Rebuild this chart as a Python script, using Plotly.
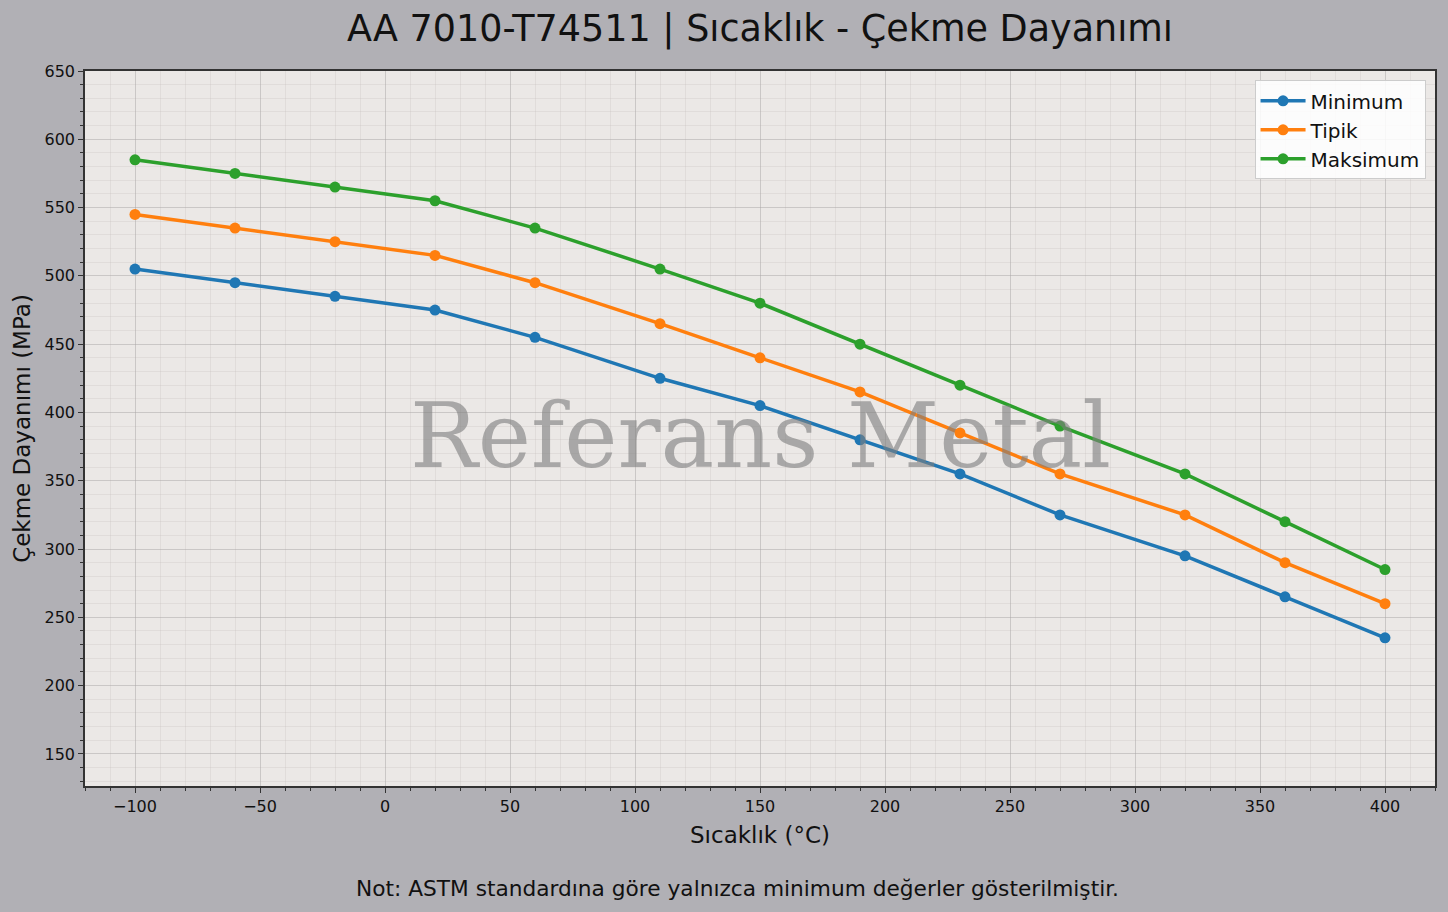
import plotly.graph_objects as go

# Temperature (°C) and tensile strength (MPa)
sicaklik = [-100, -60, -20, 20, 60, 110, 150, 190, 230, 270, 320, 360, 400]
minimum = [505, 495, 485, 475, 455, 425, 405, 380, 355, 325, 295, 265, 235]
tipik = [545, 535, 525, 515, 495, 465, 440, 415, 385, 355, 325, 290, 260]
maksimum = [585, 575, 565, 555, 535, 505, 480, 450, 420, 390, 355, 320, 285]

series = [
    ("Minimum", minimum, "#1f77b4"),
    ("Tipik", tipik, "#ff7f0e"),
    ("Maksimum", maksimum, "#2ca02c"),
]

FONT = "DejaVu Sans"
AXIS_COLOR = "#333333"
TEXT_COLOR = "#111111"

fig = go.Figure()
for name, values, color in series:
    fig.add_trace(
        go.Scatter(
            x=sicaklik,
            y=values,
            name=name,
            mode="lines+markers",
            line=dict(color=color, width=3.5),
            marker=dict(color=color, size=11),
        )
    )

axis_common = dict(
    showline=True,
    linecolor=AXIS_COLOR,
    linewidth=1.6,
    mirror=True,
    ticks="outside",
    ticklen=5,
    tickwidth=1.2,
    tickcolor=AXIS_COLOR,
    showgrid=True,
    gridcolor="rgba(170,165,165,0.5)",
    gridwidth=1,
    zeroline=False,
    tickfont=dict(family=FONT, size=16, color=TEXT_COLOR),
)
minor_common = dict(
    dtick=10, tick0=0, ticks="outside", ticklen=3, tickcolor=AXIS_COLOR,
    showgrid=True, gridcolor="rgba(190,185,185,0.25)", gridwidth=0.6,
)

fig.update_xaxes(
    **axis_common,
    range=[-120, 420],
    dtick=50,
    tick0=0,
    title=dict(text="Sıcaklık (°C)", font=dict(family=FONT, size=23, color=TEXT_COLOR), standoff=12),
    minor=minor_common,
)
fig.update_yaxes(
    **axis_common,
    range=[126.5, 650],
    dtick=50,
    tick0=0,
    title=dict(text="Çekme Dayanımı (MPa)", font=dict(family=FONT, size=23, color=TEXT_COLOR), standoff=7),
    minor=minor_common,
)

fig.update_layout(
    width=1448,
    height=912,
    paper_bgcolor="#b1b0b5",
    plot_bgcolor="#ebe8e6",
    margin=dict(l=85, r=11, t=71, b=126),
    title=dict(
        text="AA 7010-T74511 | Sıcaklık - Çekme Dayanımı",
        font=dict(family=FONT, size=36.5, color=TEXT_COLOR),
        xref="paper",
        x=0.5,
        xanchor="center",
        y=0.969,
        yanchor="middle",
    ),
    legend=dict(
        x=0.993,
        y=0.987,
        xanchor="right",
        yanchor="top",
        bgcolor="rgba(255,255,255,0.85)",
        bordercolor="#cccccc",
        borderwidth=1,
        font=dict(family=FONT, size=20, color=TEXT_COLOR),
        itemwidth=45,
        tracegroupgap=2,
    ),
    showlegend=True,
    annotations=[
        dict(
            text="Referans Metal",
            xref="paper",
            yref="paper",
            x=0.5,
            y=0.49,
            xanchor="center",
            yanchor="middle",
            showarrow=False,
            font=dict(family="DejaVu Serif", size=90, color="rgba(128,128,128,0.62)"),
        ),
        dict(
            text="Not: ASTM standardına göre yalnızca minimum değerler gösterilmiştir.",
            xref="paper",
            yref="paper",
            x=0.4837,
            y=-0.144,
            xanchor="center",
            yanchor="middle",
            showarrow=False,
            font=dict(family=FONT, size=21.7, color=TEXT_COLOR),
        ),
    ],
)

fig.write_html(
    "out.html",
    config={"displayModeBar": False},
    post_script="document.body.style.margin='0';",
)
